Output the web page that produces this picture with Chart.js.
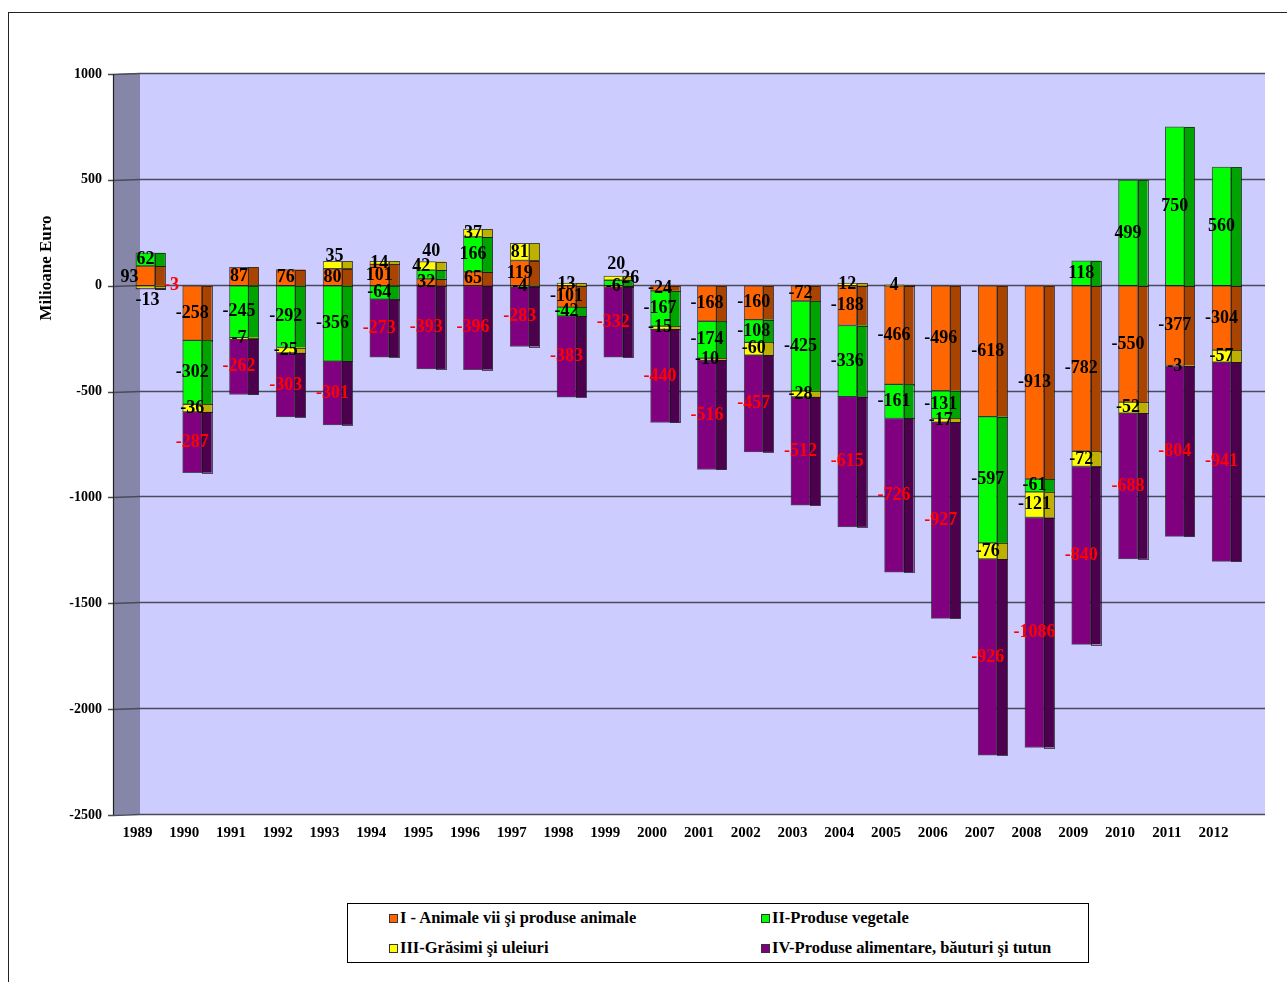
<!DOCTYPE html>
<html><head><meta charset="utf-8">
<script src="https://cdn.jsdelivr.net/npm/chart.js@4.4.1/dist/chart.umd.min.js"></script>
<style>
html,body{margin:0;padding:0;background:#fff;}
#wrap{position:relative;width:1287px;height:982px;overflow:hidden;}
#frame{position:absolute;left:8px;top:12px;width:1300px;height:1000px;border:1px solid #222;box-sizing:border-box;}
#c{position:absolute;left:0;top:0;}
#legend{position:absolute;left:347px;top:903px;width:742px;height:60px;border:1px solid #000;box-sizing:border-box;background:#fff;font-family:"Liberation Serif",serif;font-weight:bold;font-size:16.5px;color:#000;}
.li{position:absolute;white-space:nowrap;line-height:18px;}
.sw{display:inline-block;width:7px;height:7px;border:1px solid #333;margin-right:2px;}
</style></head>
<body>
<div id="wrap">
<div id="frame"></div>
<canvas id="c" width="1287" height="982"></canvas>
<div id="legend"></div>
</div>
<script>
const years = ['1989','1990','1991','1992','1993','1994','1995','1996','1997','1998','1999','2000','2001','2002','2003','2004','2005','2006','2007','2008','2009','2010','2011','2012'];
const animale    = [93,-258,87,76,80,101,32,65,119,-101,-6,-24,-168,-160,-72,-188,-466,-496,-618,-913,-782,-550,-377,-304];
const vegetale   = [62,-302,-245,-292,-356,-64,42,166,-4,-42,26,-167,-174,-108,-425,-336,-161,-131,-597,-61,118,499,750,560];
const grasimi    = [-13,-36,-7,-25,35,14,40,37,81,13,20,-15,-10,-60,-28,12,4,-17,-76,-121,-72,-52,-3,-57];
const alimentare = [-3,-287,-262,-303,-301,-273,-393,-396,-283,-383,-332,-440,-516,-457,-512,-615,-726,-927,-926,-1086,-840,-688,-804,-941];
const seriesNames = ['I - Animale vii şi produse animale','II-Produse vegetale','III-Grăsimi şi uleiuri','IV-Produse alimentare, băuturi şi tutun'];
const yTicks = [1000,500,0,-500,-1000,-1500,-2000,-2500];
const axisTitle = 'Milioane Euro';

const frontColors = ['#FF6600','#00FF00','#FFFF00','#800080'];
const sideColors  = ['#A84400','#00A400','#BDB000','#4C004E'];
const labelColors = ['#000','#000','#000','#FF0000'];
// small label nudges (pixels) where labels would overlap, keyed "index-dataset"
const labelNudge = {'0-0':[-16,1],'0-2':[2,13],'0-3':[26,-3],'4-2':[2,-9],'6-1':[-5,-8],'6-2':[5,-14],'10-1':[17,-5],'10-2':[3,-14]};

const AX = 113, DEPTH = 27, RIGHT = 1265, SIDE = 10;
const FONT = '"Liberation Serif", "Times New Roman", serif';

const wallPlugin = {
  id:'wall',
  beforeDatasetsDraw(chart){
    const {ctx, scales:{y}} = chart;
    const top = y.getPixelForValue(1000), bot = y.getPixelForValue(-2500);
    ctx.save();
    ctx.fillStyle = '#CCCCFF';
    ctx.fillRect(AX+DEPTH, top-1, RIGHT-AX-DEPTH, bot-top+1);
    ctx.fillStyle = '#8686A8';
    ctx.beginPath();
    ctx.moveTo(AX, top); ctx.lineTo(AX+DEPTH, top-1); ctx.lineTo(AX+DEPTH, bot-1); ctx.lineTo(AX, bot);
    ctx.closePath(); ctx.fill();
    ctx.strokeStyle = '#4A4A5A'; ctx.lineWidth = 1.5;
    yTicks.forEach(v=>{
      const py = Math.round(y.getPixelForValue(v))+0.5;
      ctx.beginPath();
      ctx.moveTo(AX-5, py); ctx.lineTo(AX, py); ctx.lineTo(AX+DEPTH, py-1); ctx.lineTo(RIGHT, py-1);
      ctx.stroke();
    });
    ctx.strokeStyle = '#222'; ctx.lineWidth = 1.2;
    ctx.beginPath(); ctx.moveTo(AX+0.5, top); ctx.lineTo(AX+0.5, bot); ctx.stroke();
    ctx.restore();
  },
  afterDatasetsDraw(chart){
    const {ctx} = chart;
    ctx.save();
    chart.data.datasets.forEach((ds, di)=>{
      const meta = chart.getDatasetMeta(di);
      meta.data.forEach(el=>{
        const x0 = el.x + el.width/2;
        const y0 = Math.min(el.y, el.base), h = Math.abs(el.base - el.y);
        if (h < 0.5) return;
        ctx.fillStyle = sideColors[di];
        ctx.fillRect(x0, y0, SIDE, h);
        ctx.strokeStyle = 'rgba(20,20,20,0.7)'; ctx.lineWidth = 1;
        ctx.strokeRect(Math.round(x0)+0.5, Math.round(y0)+0.5, SIDE, Math.round(h));
      });
    });
    ctx.restore();
  },
  afterDraw(chart){
    const {ctx} = chart;
    ctx.save();
    ctx.font = 'bold 18px ' + FONT;
    ctx.textAlign = 'center'; ctx.textBaseline = 'middle';
    chart.data.datasets.forEach((ds, di)=>{
      const meta = chart.getDatasetMeta(di);
      meta.data.forEach((el, i)=>{
        const n = labelNudge[i+'-'+di] || [0,0];
        ctx.fillStyle = labelColors[di];
        ctx.fillText(String(ds.data[i]), el.x + n[0], (el.y+el.base)/2 + n[1]);
      });
    });
    ctx.fillStyle = '#000';
    ctx.font = 'bold 17px ' + FONT;
    ctx.translate(47, 268); ctx.rotate(-Math.PI/2);
    ctx.fillText(axisTitle, 0, 0);
    ctx.restore();
  }
};

const datasets = [animale, vegetale, grasimi, alimentare].map((d, i)=>({
  label: seriesNames[i], data: d,
  backgroundColor: frontColors[i], borderColor: 'rgba(20,20,20,0.7)', borderWidth: 1, borderSkipped: false,
  barThickness: 19
}));

new Chart(document.getElementById('c'), {
  type:'bar',
  data:{labels: years, datasets},
  options:{
    responsive:false, animation:false, devicePixelRatio:1,
    layout:{padding:{left:8, right:42, top:74, bottom:0}},
    plugins:{legend:{display:false}, tooltip:{enabled:false}},
    scales:{
      x:{stacked:true, grid:{display:false, drawTicks:false}, border:{display:false},
         ticks:{labelOffset:-8, padding:9, color:'#000', font:{family:FONT, weight:'bold', size:15}, maxRotation:0, autoSkip:false},
         afterFit(s){ s.height = 167; }},
      y:{stacked:true, min:-2500, max:1000, grid:{display:false, drawTicks:false}, border:{display:false},
         afterBuildTicks(s){ s.ticks = yTicks.map(v=>({value:v})); },
         ticks:{padding:20, color:'#000', font:{family:FONT, weight:'bold', size:14}, callback:(v)=>String(v)},
         afterFit(s){ s.width = 114; }}
    }
  },
  plugins:[wallPlugin]
});

const lg = document.getElementById('legend');
const pos = [[41,5],[413,5],[41,35],[413,35]];
seriesNames.forEach((n,i)=>{
  const d = document.createElement('div');
  d.className='li'; d.style.left=pos[i][0]+'px'; d.style.top=pos[i][1]+'px';
  d.innerHTML = '<span class="sw" style="background:'+frontColors[i]+'"></span>';
  d.appendChild(document.createTextNode(n));
  lg.appendChild(d);
});
</script>
</body></html>
